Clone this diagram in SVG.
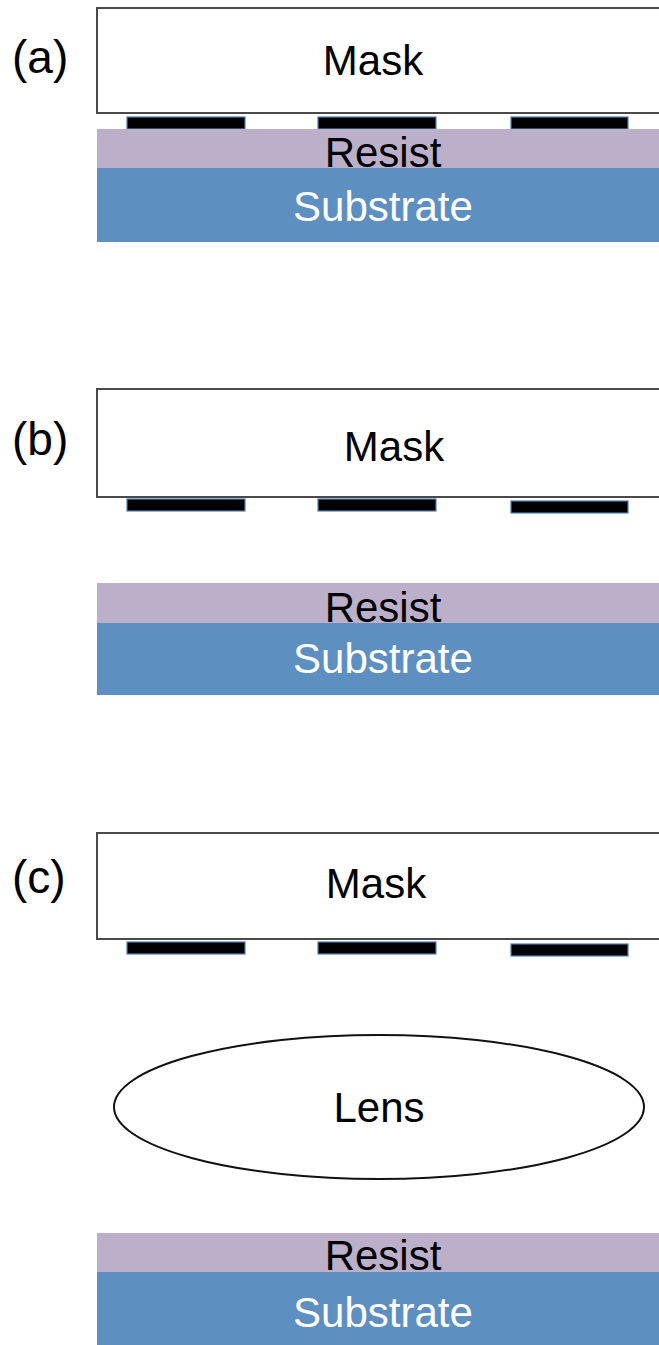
<svg xmlns="http://www.w3.org/2000/svg" width="659" height="1345" viewBox="0 0 659 1345">
<style>
.mask{fill:#fff;stroke:#4a4a4a;stroke-width:2}
.bar{fill:#000;stroke:#4d7fb3;stroke-width:1.2}
.resist{fill:#bcafca}
.sub{fill:#5e8fc1}
.lens{fill:#fff;stroke:#111;stroke-width:2}
text{font-family:"Liberation Sans",Arial,sans-serif;font-size:42px;text-anchor:middle}
.dark{fill:#000}
.light{fill:#fff}
.lbl{font-size:46px;text-anchor:start;fill:#000}
</style>
<rect width="659" height="1345" fill="#fff"/>

<g id="panel-a">
  <text class="lbl" x="12" y="73">(a)</text>
  <g id="a-mask">
    <rect class="mask" x="97" y="8" width="580" height="105"/>
    <text class="dark" x="373" y="75">Mask</text>
  </g>
  <g id="a-bars">
    <rect class="bar" x="127" y="117" width="118" height="12"/>
    <rect class="bar" x="318" y="117" width="118" height="12"/>
    <rect class="bar" x="511" y="117" width="117" height="12"/>
  </g>
  <g id="a-resist">
    <rect class="resist" x="97" y="129" width="570" height="39"/>
    <text class="dark" x="383" y="167">Resist</text>
  </g>
  <g id="a-substrate">
    <rect class="sub" x="97" y="168" width="570" height="74"/>
    <text class="light" x="383" y="221">Substrate</text>
  </g>
</g>

<g id="panel-b">
  <text class="lbl" x="12" y="455">(b)</text>
  <g id="b-mask">
    <rect class="mask" x="97" y="389" width="580" height="108"/>
    <text class="dark" x="394" y="461">Mask</text>
  </g>
  <g id="b-bars">
    <rect class="bar" x="127" y="499" width="118" height="12"/>
    <rect class="bar" x="318" y="499" width="118" height="12"/>
    <rect class="bar" x="511" y="501" width="117" height="12"/>
  </g>
  <g id="b-resist">
    <rect class="resist" x="97" y="583" width="570" height="40"/>
    <text class="dark" x="383" y="622">Resist</text>
  </g>
  <g id="b-substrate">
    <rect class="sub" x="97" y="623" width="570" height="72"/>
    <text class="light" x="383" y="673">Substrate</text>
  </g>
</g>

<g id="panel-c">
  <text class="lbl" x="12" y="893">(c)</text>
  <g id="c-mask">
    <rect class="mask" x="97" y="833" width="580" height="106"/>
    <text class="dark" x="376" y="898">Mask</text>
  </g>
  <g id="c-bars">
    <rect class="bar" x="127" y="942" width="118" height="12"/>
    <rect class="bar" x="318" y="942" width="118" height="12"/>
    <rect class="bar" x="511" y="944" width="117" height="12"/>
  </g>
  <g id="c-lens">
    <ellipse class="lens" cx="379" cy="1107" rx="265" ry="72"/>
    <text class="dark" x="379" y="1122">Lens</text>
  </g>
  <g id="c-resist">
    <rect class="resist" x="97" y="1233" width="570" height="39"/>
    <text class="dark" x="383" y="1270">Resist</text>
  </g>
  <g id="c-substrate">
    <rect class="sub" x="97" y="1272" width="570" height="80"/>
    <text class="light" x="383" y="1327">Substrate</text>
  </g>
</g>

<g id="connectors"></g>
</svg>
